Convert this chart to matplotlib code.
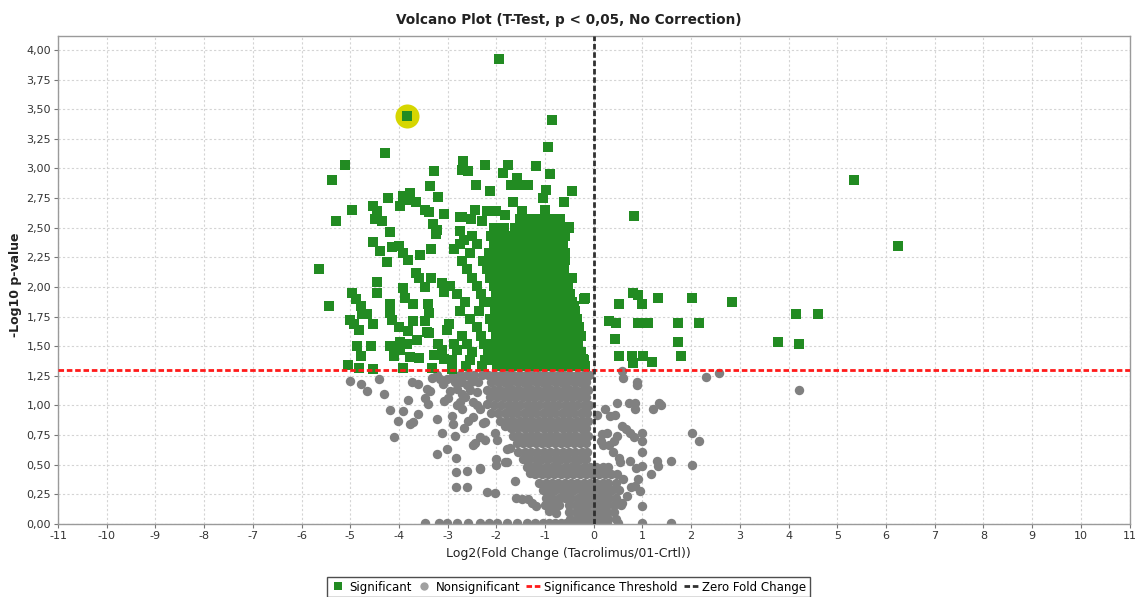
import matplotlib
matplotlib.use("Agg")
import matplotlib.pyplot as plt
from matplotlib.lines import Line2D
from matplotlib.ticker import FuncFormatter, MultipleLocator

plt.rcParams['font.family'] = ['DejaVu Sans']
plt.rcParams['axes.unicode_minus'] = False

TITLE = "Volcano Plot (T-Test, p < 0,05, No Correction)"
XLABEL = "Log2(Fold Change (Tacrolimus/01-Crtl))"
YLABEL = "-Log10 p-value"
THRESHOLD = 1.30103          # -log10(0.05)
HIGHLIGHT = (-3.84, 3.44)    # selected protein (yellow halo)

# --- significant proteins (green squares) ---
sig_left = [
    (-3.84, 3.44), (-4.29, 3.13), (-5.10, 3.03), (-5.37, 2.90), (-4.96, 2.65), (-5.29, 2.56),
    (-5.65, 2.15), (-5.44, 1.84), (-4.54, 2.68), (-4.45, 2.64), (-4.50, 2.57), (-4.34, 2.56),
    (-4.22, 2.75), (-4.18, 2.46), (-4.54, 2.38), (-4.39, 2.30), (-4.25, 2.21), (-4.14, 2.34),
    (-4.00, 2.35), (-3.91, 2.29), (-3.81, 2.23), (-3.91, 2.77), (-3.78, 2.79), (-3.98, 2.68),
    (-3.86, 2.73), (-3.65, 2.72), (-3.46, 2.65), (-3.39, 2.63), (-3.37, 2.85), (-3.28, 2.98),
    (-3.20, 2.76), (-3.07, 2.62), (-3.30, 2.53), (-3.22, 2.48), (-3.23, 2.45), (-2.74, 2.59),
    (-3.35, 2.32), (-3.56, 2.27), (-3.65, 2.12), (-3.58, 2.08), (-3.35, 2.08), (-3.46, 2.00),
    (-3.12, 2.03), (-3.07, 1.96), (-4.46, 2.04), (-4.46, 1.95), (-4.96, 1.95), (-4.88, 1.90),
    (-4.78, 1.84), (-4.75, 1.77), (-4.65, 1.77), (-5.00, 1.72), (-4.92, 1.69), (-4.82, 1.64),
    (-4.54, 1.69), (-4.18, 1.86), (-4.18, 1.78), (-4.15, 1.72), (-3.91, 1.99), (-3.87, 1.91),
    (-3.71, 1.86), (-4.00, 1.66), (-3.82, 1.63), (-3.71, 1.71), (-3.40, 1.86), (-3.39, 1.78),
    (-3.46, 1.71), (-3.42, 1.62), (-3.39, 1.61), (-4.86, 1.50), (-4.77, 1.42), (-4.58, 1.50),
    (-4.18, 1.50), (-4.10, 1.42), (-3.97, 1.54), (-3.84, 1.52), (-3.97, 1.47), (-3.77, 1.41),
    (-3.63, 1.55), (-3.59, 1.40), (-3.29, 1.43), (-3.19, 1.52), (-3.12, 1.47), (-3.08, 1.39),
    (-5.05, 1.34), (-4.81, 1.32), (-4.54, 1.31), (-3.91, 1.32), (-3.33, 1.32), (-2.91, 1.31),
    (-2.98, 1.69), (-3.01, 1.64), (-2.86, 1.52), (-2.81, 1.47), (-2.91, 1.38), (-2.86, 2.32),
    (-2.74, 2.47), (-2.67, 2.40),
]
sig_top = [
    (-1.94, 3.92), (-0.85, 3.41), (-0.93, 3.18), (-1.18, 3.02), (-0.90, 2.95),
    (-2.68, 3.06), (-2.71, 2.99), (-2.58, 2.98), (-2.24, 3.03), (-1.76, 3.03), (-1.86, 2.96),
    (-1.58, 2.92), (-1.69, 2.86), (-1.52, 2.86), (-1.35, 2.86), (-0.99, 2.82), (-1.05, 2.75),
    (-0.44, 2.81), (-2.41, 2.86), (-2.12, 2.81), (-1.66, 2.72), (-0.62, 2.72), (-2.44, 2.65),
    (-2.20, 2.64), (-2.01, 2.64), (-1.48, 2.64), (-1.01, 2.65), (-2.71, 2.59), (-2.53, 2.57),
    (-2.29, 2.56), (-1.83, 2.61), (-0.50, 2.51), (-0.67, 2.40), (-0.78, 2.35), (-0.60, 2.23),
    (-0.44, 2.08), (-0.19, 1.90), (-0.40, 1.84), (-0.17, 1.91), (-0.22, 1.39),
]
sig_right = [
    (5.35, 2.90), (6.24, 2.35), (0.82, 2.60), (0.80, 1.95), (0.90, 1.93), (0.99, 1.86),
    (0.51, 1.86), (1.32, 1.91), (2.01, 1.91), (2.83, 1.87), (0.31, 1.71), (0.46, 1.70),
    (0.90, 1.70), (1.11, 1.70), (1.73, 1.70), (2.16, 1.70), (0.44, 1.56), (1.73, 1.54),
    (4.16, 1.77), (4.61, 1.77), (3.79, 1.54), (4.22, 1.52), (0.51, 1.42), (0.78, 1.42),
    (0.80, 1.36), (1.01, 1.42), (1.19, 1.37), (1.80, 1.42),
]
# dense block of significant proteins, one list of log2 FC per -log10 p row
sig_core_y = [2.57, 2.50, 2.43, 2.36, 2.29, 2.22, 2.15, 2.08, 2.01, 1.94,
              1.87, 1.80, 1.73, 1.66, 1.59, 1.52, 1.45, 1.38, 1.33]
sig_core_x = [
    [-1.52, -1.40, -1.28, -1.16, -1.04, -0.92, -0.80, -0.70],
    [-2.05, -1.85, -1.62, -1.50, -1.38, -1.26, -1.14, -1.02, -0.90, -0.78, -0.68, -0.50],
    [-2.50, -2.10, -1.95, -1.80, -1.70, -1.55, -1.42, -1.30, -1.18, -1.06, -0.94, -0.82, -0.70, -0.60],
    [-2.75, -2.40, -2.05, -1.90, -1.78, -1.62, -1.50, -1.38, -1.25, -1.12, -1.00, -0.88, -0.76, -0.64],
    [-2.55, -2.15, -2.00, -1.85, -1.70, -1.58, -1.45, -1.32, -1.20, -1.08, -0.96, -0.84, -0.72, -0.60],
    [-2.70, -2.28, -2.10, -1.95, -1.80, -1.66, -1.52, -1.40, -1.28, -1.15, -1.02, -0.90, -0.78, -0.66],
    [-2.60, -2.20, -2.05, -1.90, -1.75, -1.62, -1.50, -1.38, -1.25, -1.12, -1.00, -0.88, -0.76, -0.62],
    [-2.50, -2.12, -1.98, -1.84, -1.70, -1.57, -1.44, -1.32, -1.20, -1.08, -0.95, -0.83, -0.70, -0.55],
    [-2.95, -2.40, -2.05, -1.90, -1.76, -1.63, -1.50, -1.38, -1.26, -1.14, -1.02, -0.90, -0.78, -0.66, -0.52],
    [-2.80, -2.32, -2.00, -1.85, -1.72, -1.58, -1.45, -1.33, -1.21, -1.09, -0.97, -0.85, -0.73, -0.60, -0.48],
    [-2.65, -2.25, -2.08, -1.93, -1.79, -1.65, -1.52, -1.40, -1.28, -1.16, -1.04, -0.92, -0.80, -0.68, -0.55, -0.44],
    [-2.75, -2.35, -2.02, -1.87, -1.73, -1.60, -1.47, -1.35, -1.23, -1.11, -0.99, -0.87, -0.75, -0.63, -0.50, -0.38],
    [-2.55, -2.12, -1.97, -1.82, -1.68, -1.55, -1.42, -1.30, -1.18, -1.06, -0.94, -0.82, -0.70, -0.58, -0.46, -0.34],
    [-2.40, -2.06, -1.91, -1.77, -1.63, -1.50, -1.37, -1.25, -1.13, -1.01, -0.89, -0.77, -0.65, -0.53, -0.41, -0.30],
    [-2.70, -2.32, -2.00, -1.85, -1.71, -1.58, -1.45, -1.32, -1.20, -1.08, -0.96, -0.84, -0.72, -0.60, -0.48, -0.36, -0.26],
    [-2.60, -2.25, -2.09, -1.94, -1.80, -1.66, -1.52, -1.39, -1.27, -1.15, -1.03, -0.91, -0.79, -0.67, -0.55, -0.43, -0.32],
    [-2.50, -2.17, -2.02, -1.88, -1.74, -1.60, -1.47, -1.34, -1.22, -1.10, -0.98, -0.86, -0.74, -0.62, -0.50, -0.38, -0.27],
    [-2.55, -2.24, -2.08, -1.93, -1.79, -1.65, -1.52, -1.39, -1.27, -1.15, -1.03, -0.91, -0.79, -0.67, -0.55, -0.43, -0.31, -0.20],
    [-2.62, -2.30, -1.99, -1.85, -1.71, -1.57, -1.44, -1.31, -1.19, -1.07, -0.95, -0.83, -0.71, -0.59, -0.47, -0.35, -0.24, -0.18],
]

# --- nonsignificant proteins (grey circles) ---
non_left = [
    (-5.01, 1.21), (-4.78, 1.18), (-4.66, 1.12), (-4.40, 1.22), (-4.30, 1.10), (-4.19, 0.96),
    (-4.11, 0.73), (-4.01, 0.87), (-3.92, 0.95), (-3.82, 1.05), (-3.77, 0.84), (-3.72, 0.86),
    (-3.73, 1.20), (-3.60, 1.18), (-3.60, 0.93), (-3.47, 1.06), (-3.40, 1.01), (-3.36, 1.12),
    (-3.43, 1.14), (-3.33, 1.23), (-3.22, 1.26), (-3.21, 0.89), (-3.11, 0.77), (-3.21, 0.59),
    (-3.01, 0.63), (-2.91, 0.91), (-2.88, 0.84), (-3.08, 1.04), (-3.00, 1.06), (-2.95, 1.12),
    (-2.85, 0.74), (-2.83, 0.56), (-2.83, 0.44), (-2.83, 0.31), (-2.60, 0.45), (-2.60, 0.31),
    (-3.15, 1.22), (-3.01, 1.22), (-2.91, 1.24), (-2.74, 1.03), (-2.71, 0.97), (-2.47, 1.03),
    (-2.81, 1.14), (-2.60, 1.17), (-2.40, 1.11), (-2.33, 0.97), (-2.19, 1.01), (-2.23, 0.86),
    (-2.67, 0.81), (-2.58, 0.87), (-2.48, 0.90), (-2.47, 0.67), (-2.33, 0.73), (-2.23, 0.71),
    (-2.33, 0.47), (-2.19, 0.27), (-2.02, 0.26), (-2.00, 0.55), (-2.00, 0.50), (-2.02, 0.77),
    (-1.99, 0.71), (-1.78, 0.63), (-1.71, 0.64), (-1.78, 0.52), (-1.83, 0.52), (-1.61, 0.36),
    (-1.60, 0.22), (-1.48, 0.21), (-1.35, 0.21), (-1.26, 0.18), (-1.18, 0.15), (-1.00, 0.16),
    (-0.89, 0.15), (-0.91, 0.11), (-0.78, 0.09), (-0.71, 0.16), (-1.34, 0.49), (-1.30, 0.43),
    (-1.82, 0.83), (-2.27, 0.85), (-2.44, 0.68), (-2.34, 0.46), (-3.10, 1.18), (-2.85, 1.20),
    (-2.75, 1.26), (-2.70, 1.10), (-2.80, 1.00),
]
non_right = [
    (0.59, 1.29), (0.61, 1.23), (0.88, 1.20), (0.88, 1.17), (2.31, 1.24), (2.57, 1.27),
    (4.22, 1.13), (0.24, 0.97), (0.48, 1.02), (0.73, 1.02), (0.85, 1.02), (0.85, 0.97),
    (1.21, 0.97), (1.33, 1.02), (1.39, 1.00), (0.34, 0.91), (0.44, 0.92), (2.01, 0.77),
    (2.16, 0.70), (0.17, 0.76), (0.27, 0.77), (0.58, 0.83), (0.66, 0.80), (0.75, 0.77),
    (0.82, 0.73), (1.00, 0.77), (1.00, 0.70), (1.00, 0.61), (0.48, 0.74), (0.41, 0.70),
    (0.14, 0.70), (0.20, 0.67), (0.32, 0.67), (0.40, 0.61), (0.51, 0.56), (0.54, 0.52),
    (0.74, 0.53), (0.87, 0.47), (1.00, 0.49), (1.17, 0.42), (1.29, 0.53), (1.32, 0.49),
    (1.59, 0.53), (2.01, 0.50), (0.61, 0.38), (0.77, 0.31), (0.91, 0.38), (0.85, 0.32),
    (0.95, 0.28), (1.00, 0.15), (0.59, 0.18), (0.68, 0.24), (-0.15, 1.23), (0.07, 0.92),
]
non_core_y = [1.26, 1.20, 1.13, 1.07, 1.00, 0.94, 0.87, 0.81, 0.74, 0.68,
              0.61, 0.55, 0.48, 0.42, 0.35, 0.29, 0.22, 0.16, 0.10, 0.04]
non_core_x = [
    [-2.60, -2.45, -2.30, -2.17, -2.04, -1.91, -1.78, -1.65, -1.52, -1.39, -1.26, -1.13, -1.00, -0.87, -0.74, -0.61, -0.48, -0.35, -0.22, -0.10],
    [-2.70, -2.52, -2.38, -2.10, -1.97, -1.84, -1.71, -1.58, -1.45, -1.32, -1.19, -1.06, -0.93, -0.80, -0.67, -0.54, -0.41, -0.28, -0.15],
    [-2.55, -2.20, -2.05, -1.92, -1.79, -1.66, -1.53, -1.40, -1.27, -1.14, -1.01, -0.88, -0.75, -0.62, -0.49, -0.36, -0.23, -0.12],
    [-2.65, -2.12, -1.98, -1.85, -1.72, -1.59, -1.46, -1.33, -1.20, -1.07, -0.94, -0.81, -0.68, -0.55, -0.42, -0.29, -0.16],
    [-2.40, -2.05, -1.90, -1.77, -1.64, -1.51, -1.38, -1.25, -1.12, -0.99, -0.86, -0.73, -0.60, -0.47, -0.34, -0.21, -0.10],
    [-2.10, -1.96, -1.83, -1.70, -1.57, -1.44, -1.31, -1.18, -1.05, -0.92, -0.79, -0.66, -0.53, -0.40, -0.27, -0.14],
    [-1.92, -1.78, -1.65, -1.52, -1.39, -1.26, -1.13, -1.00, -0.87, -0.74, -0.61, -0.48, -0.35, -0.22, -0.12],
    [-1.70, -1.57, -1.44, -1.31, -1.18, -1.05, -0.92, -0.79, -0.66, -0.53, -0.40, -0.27, -0.15],
    [-1.66, -1.53, -1.40, -1.27, -1.14, -1.01, -0.88, -0.75, -0.62, -0.49, -0.36, -0.23, -0.12],
    [-1.58, -1.45, -1.32, -1.19, -1.06, -0.93, -0.80, -0.67, -0.54, -0.41, -0.28, -0.16],
    [-1.55, -1.42, -1.29, -1.16, -1.03, -0.90, -0.77, -0.64, -0.51, -0.38, -0.25, -0.13],
    [-1.45, -1.32, -1.19, -1.06, -0.93, -0.80, -0.67, -0.54, -0.41, -0.28, -0.16],
    [-1.38, -1.25, -1.12, -0.99, -0.86, -0.73, -0.60, -0.47, -0.34, -0.21, -0.08, 0.05, 0.18, 0.30],
    [-1.20, -1.07, -0.94, -0.81, -0.68, -0.55, -0.42, -0.29, -0.16, -0.03, 0.10, 0.23, 0.36, 0.48],
    [-1.12, -0.99, -0.86, -0.73, -0.60, -0.47, -0.34, -0.21, -0.08, 0.05, 0.18, 0.30, 0.45],
    [-1.05, -0.92, -0.79, -0.66, -0.53, -0.40, -0.27, -0.14, -0.01, 0.12, 0.25, 0.38, 0.52],
    [-0.98, -0.85, -0.72, -0.59, -0.46, -0.33, -0.20, -0.07, 0.06, 0.19, 0.32, 0.45],
    [-0.80, -0.50, -0.37, -0.24, -0.11, 0.02, 0.15, 0.28, 0.42, 0.55],
    [-0.50, -0.37, -0.24, -0.11, 0.02, 0.15, 0.28, 0.42],
    [-0.48, -0.35, -0.22, -0.09, 0.04, 0.17, 0.30, 0.45],
]
# proteins sitting on p = 1 (-log10 p = 0)
non_zero_x = [-3.46, -3.18, -3.01, -2.81, -2.58, -2.33, -2.16, -1.99, -1.78, -1.58, -1.37,
              -1.20, -1.05, -0.92, -0.80, -0.68, -0.56, -0.44, -0.32, -0.20, -0.08, 0.04,
              0.16, 0.28, 0.49, 1.00, 1.59]


def rows_to_points(ys, xs):
    return [(x, y) for y, row in zip(ys, xs) for x in row]


sig = sig_left + sig_top + sig_right + rows_to_points(sig_core_y, sig_core_x)
non = (non_left + non_right + rows_to_points(non_core_y, non_core_x)
       + [(x, 0.01) for x in non_zero_x])

GREEN = "#228b22"
GREY = "#808080"

fig = plt.figure(figsize=(11.37, 5.97), dpi=100)
ax = fig.add_axes([58 / 1137, 1 - 524 / 597, (1129.5 - 58) / 1137, (524 - 36) / 597])

ax.scatter([p[0] for p in non], [p[1] for p in non], marker='o', s=46,
           color=GREY, linewidths=0, zorder=2)
ax.scatter([HIGHLIGHT[0]], [HIGHLIGHT[1]], marker='o', s=300,
           color="#d6d600", linewidths=0, zorder=3)
ax.scatter([p[0] for p in sig], [p[1] for p in sig], marker='s', s=50,
           color=GREEN, linewidths=0, zorder=4)

ax.axhline(THRESHOLD, color="#ff1a1a", lw=2, dashes=(2, 1), zorder=5)
ax.axvline(0, color="#303030", lw=2, dashes=(2, 1), zorder=5)

ax.set_xlim(-11, 11)
ax.set_ylim(0, 4.118)
ax.xaxis.set_major_locator(MultipleLocator(1))
ax.yaxis.set_major_locator(MultipleLocator(0.25))
ax.yaxis.set_major_formatter(FuncFormatter(lambda v, p: f"{v:.2f}".replace('.', ',')))
ax.grid(True, color="#d4d4d4", lw=0.8, dashes=(2, 2))
ax.set_axisbelow(True)
for s in ax.spines.values():
    s.set_color("#9a9a9a")
    s.set_linewidth(1)
ax.tick_params(direction='out', length=3, width=0.8, color="#777777",
               labelsize=8, labelcolor="#333333", pad=2)

fig.text(0.5, 1 - 20 / 597, TITLE, ha='center', va='center', fontsize=9.8,
         fontweight='bold', color="#222222")
fig.text(0.5, 1 - 553 / 597, XLABEL, ha='center', va='center', fontsize=9, color="#222222")
fig.text(16 / 1137, 1 - 285 / 597, YLABEL, ha='center', va='center', rotation=90,
         fontsize=9, fontweight='bold', color="#222222")

handles = [
    Line2D([], [], ls='none', marker='s', markersize=6, color=GREEN, markeredgewidth=0),
    Line2D([], [], ls='none', marker='o', markersize=6, color="#a0a0a0", markeredgewidth=0),
    Line2D([], [], color="#ff1a1a", lw=2, dashes=(2, 1)),
    Line2D([], [], color="#303030", lw=2, dashes=(2, 1)),
]
labels = ["Significant", "Nonsignificant", "Significance Threshold", "Zero Fold Change"]
leg = fig.legend(handles, labels, loc='center', bbox_to_anchor=(0.5, 1 - 587 / 597),
                 ncol=4, fontsize=8.5, frameon=True, fancybox=False, handlelength=1.2,
                 handletextpad=0.35, columnspacing=0.5, borderpad=0.3)
leg.get_frame().set_edgecolor("#222222")
leg.get_frame().set_linewidth(1)

fig.savefig("out.png", dpi=100)
